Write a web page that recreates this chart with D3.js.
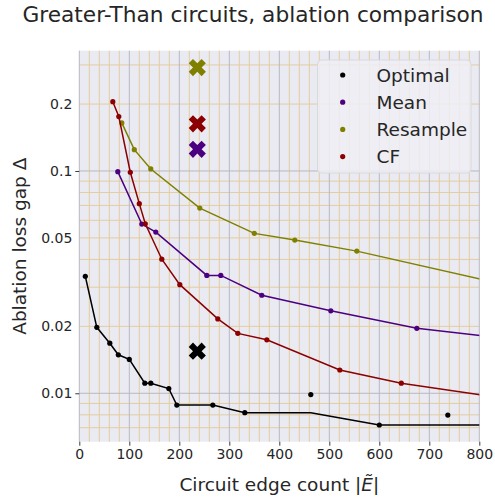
<!DOCTYPE html>
<html>
<head>
<meta charset="utf-8">
<script src="https://cdn.jsdelivr.net/npm/d3@7"></script>
<style>
  body { margin: 0; background: #fff; }
  svg { display: block; font-family: "DejaVu Sans", sans-serif; }
</style>
</head>
<body>
<div id="chart"></div>
<script>
// values
var seriesNames = ["Optimal", "Mean", "Resample", "CF"];

var optimalX = [12, 35, 61, 78, 100, 131, 143, 179, 195, 267, 331, 463, 600, 737, 900];
var optimalY = [0.0336, 0.0198, 0.0168, 0.0149, 0.0142, 0.0111, 0.0111, 0.0105, 0.00885, 0.00885, 0.00818, 0.00987, 0.0072, 0.00798, 0.0075];

var meanX = [77, 125, 153, 255, 283, 365, 503, 675, 900];
var meanY = [0.0993, 0.0577, 0.0531, 0.0339, 0.0339, 0.0276, 0.0235, 0.0196, 0.01715];

var resampleX = [85, 110, 143, 241, 350, 431, 555, 900];
var resampleY = [0.1645, 0.1247, 0.1021, 0.0681, 0.0524, 0.0489, 0.0436, 0.0291];

var cfX = [67, 79, 102, 120, 132, 165, 201, 277, 317, 375, 521, 644, 900];
var cfY = [0.205, 0.1757, 0.0987, 0.0713, 0.0579, 0.0401, 0.0308, 0.0216, 0.0186, 0.0174, 0.01273, 0.0111, 0.00915];

// the big X markers (full circuit)
var fullX = [236, 236, 236, 236];
var fullY = [0.01546, 0.1252, 0.292, 0.163];

var xTicks = [0, 100, 200, 300, 400, 500, 600, 700, 800];
var yTicks = [0.01, 0.02, 0.05, 0.1, 0.2];

var colors = {Optimal: "#000000", Mean: "#4b0082", Resample: "#808000", CF: "#8b0000"};

var width = 495, height = 497,
    margin = {top: 50.7, right: 15.7, bottom: 55.3, left: 79.3};

var svg = d3.select("#chart").append("svg")
    .attr("width", width)
    .attr("height", height);

var x = d3.scaleLinear()
    .domain([0, 800])
    .range([margin.left, width - margin.right]);

var y = d3.scaleLog()
    .domain([0.006056, 0.3476])
    .range([height - margin.bottom, margin.top]);

// background
svg.append("rect")
    .attr("x", x(0)).attr("y", margin.top)
    .attr("width", x(800) - x(0))
    .attr("height", height - margin.bottom - margin.top)
    .attr("fill", "#eaeaf2");

svg.append("clipPath").attr("id", "clip")
  .append("rect")
    .attr("x", x(0)).attr("y", margin.top)
    .attr("width", x(800) - x(0))
    .attr("height", height - margin.bottom - margin.top);

// minor grid
var xMinor = d3.range(0, 801, 20).filter(function(d) { return d % 100 !== 0; });
var yMinor = [];
[0.001, 0.01, 0.1].forEach(function(dec) {
  for (var k = 2; k < 10; k++) yMinor.push(dec * k);
});
yMinor = yMinor.filter(function(d) { return d > y.domain()[0] && d < y.domain()[1]; });

var grid = svg.append("g");
grid.selectAll(".xminor").data(xMinor).enter().append("line")
    .attr("x1", x).attr("x2", x)
    .attr("y1", margin.top).attr("y2", height - margin.bottom)
    .attr("stroke", "#e4cd9f").attr("stroke-width", 1);
grid.selectAll(".yminor").data(yMinor).enter().append("line")
    .attr("x1", x(0)).attr("x2", x(800))
    .attr("y1", y).attr("y2", y)
    .attr("stroke", "#e4cd9f").attr("stroke-width", 1);
grid.selectAll(".xmajor").data(xTicks).enter().append("line")
    .attr("x1", x).attr("x2", x)
    .attr("y1", margin.top).attr("y2", height - margin.bottom)
    .attr("stroke", "#b8b8c0").attr("stroke-width", 1);
grid.selectAll(".ymajor").data([0.01, 0.1]).enter().append("line")
    .attr("x1", x(0)).attr("x2", x(800))
    .attr("y1", y).attr("y2", y)
    .attr("stroke", "#b8b8c0").attr("stroke-width", 1);

// axes
var xAxis = svg.append("g")
    .attr("transform", "translate(0," + (height - margin.bottom) + ")")
    .call(d3.axisBottom(x).tickValues(xTicks).tickSize(4).tickPadding(3));
var yAxis = svg.append("g")
    .attr("transform", "translate(" + margin.left + ",0)")
    .call(d3.axisLeft(y).tickValues(yTicks).tickSize(4).tickPadding(3)
      .tickFormat(function(d) { return String(+d.toPrecision(2)); }));

[xAxis, yAxis].forEach(function(ax) {
  ax.select(".domain").remove();
  ax.selectAll(".tick line").attr("stroke", "#3a3a3a").attr("stroke-width", 1);
  ax.selectAll(".tick text")
    .attr("fill", "#262626")
    .style("font-size", "14px")
    .style("font-family", "DejaVu Sans, sans-serif");
});
// minor log ticks carry labels but no tick marks
yAxis.selectAll(".tick").filter(function(d) { return d !== 0.01 && d !== 0.1; })
    .select("line").remove();

// series
var series = [
  {name: "Optimal", xs: optimalX, ys: optimalY},
  {name: "Mean", xs: meanX, ys: meanY},
  {name: "Resample", xs: resampleX, ys: resampleY},
  {name: "CF", xs: cfX, ys: cfY}
];

var line = d3.line()
    .x(function(d) { return x(d[0]); })
    .y(function(d) { return y(d[1]); });

var plot = svg.append("g").attr("clip-path", "url(#clip)");

series.forEach(function(s) {
  var pts = s.xs.map(function(v, i) { return [v, s.ys[i]]; });
  var path = pts;
  if (s.name === "Optimal") {
    // the black line follows the best value found so far
    var best = Infinity;
    path = pts.map(function(p) { best = Math.min(best, p[1]); return [p[0], best]; });
  }
  plot.append("path")
      .datum(path)
      .attr("fill", "none")
      .attr("stroke", colors[s.name])
      .attr("stroke-width", 1.5)
      .attr("d", line);
  plot.selectAll(null).data(pts).enter().append("circle")
      .attr("cx", function(d) { return x(d[0]); })
      .attr("cy", function(d) { return y(d[1]); })
      .attr("r", 2.6)
      .attr("fill", colors[s.name]);
});

// big X markers
var xMark = d3.symbol().type(d3.symbolCross).size(185);
plot.selectAll(".full").data(seriesNames).enter().append("path")
    .attr("d", xMark)
    .attr("transform", function(d, i) {
      return "translate(" + x(fullX[i]) + "," + y(fullY[i]) + ") rotate(45)";
    })
    .attr("fill", function(d) { return colors[d]; });

// legend
var legend = svg.append("g").attr("transform", "translate(317.5,60)");
legend.append("rect")
    .attr("width", 153.5).attr("height", 113)
    .attr("rx", 4)
    .attr("fill", "#eeeef5").attr("fill-opacity", 0.85)
    .attr("stroke", "#d8d8de");
seriesNames.forEach(function(n, i) {
  var row = legend.append("g").attr("transform", "translate(0," + (15 + i * 27.2) + ")");
  row.append("circle").attr("cx", 25.2).attr("cy", 0).attr("r", 2.6).attr("fill", colors[n]);
  row.append("text")
      .attr("x", 59).attr("y", 6.5)
      .attr("fill", "#262626")
      .style("font-size", "18.5px")
      .text(n);
});

// titles
svg.append("text")
    .attr("x", 253).attr("y", 21.7)
    .attr("text-anchor", "middle")
    .attr("fill", "#262626")
    .style("font-size", "21.7px")
    .text("Greater-Than circuits, ablation comparison");

var xl = svg.append("text")
    .attr("x", x(400)).attr("y", 491)
    .attr("text-anchor", "middle")
    .attr("fill", "#262626")
    .style("font-size", "18.5px");
xl.append("tspan").text("Circuit edge count |");
xl.append("tspan").style("font-style", "italic").text("E\u0303");
xl.append("tspan").text("|");

svg.append("text")
    .attr("transform", "translate(25.5," + ((margin.top + height - margin.bottom) / 2) + ") rotate(-90)")
    .attr("text-anchor", "middle")
    .attr("fill", "#262626")
    .style("font-size", "18.5px")
    .text("Ablation loss gap \u0394");
</script>
</body>
</html>
